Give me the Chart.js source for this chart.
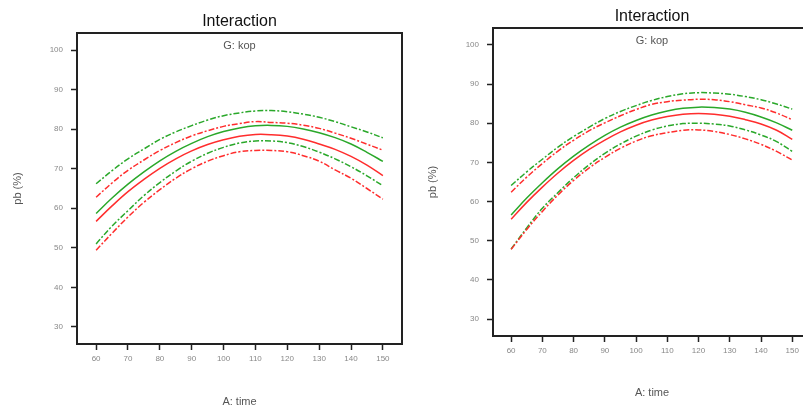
<!DOCTYPE html>
<html>
<head>
<meta charset="utf-8">
<script src="https://cdn.jsdelivr.net/npm/chart.js@4.4.1/dist/chart.umd.min.js"></script>
<style>
  html, body { margin: 0; padding: 0; background: #fff; overflow: hidden; width: 803px; height: 409px; }
  .box { position: absolute; top: 0; height: 409px; width: 410px; }
  #left { left: 0; }
  #right { left: 410px; }
</style>
</head>
<body>
<div class="box" id="left"><canvas id="ctxLeft"></canvas></div>
<div class="box" id="right"><canvas id="ctxRight"></canvas></div>
<script>
// A: time
const timeValues = [60, 65, 70, 75, 80, 85, 90, 95, 100, 105, 110, 115, 120, 125, 130, 135, 140, 145, 150];
const xTicks = [60, 70, 80, 90, 100, 110, 120, 130, 140, 150];
const yTicks = [30, 40, 50, 60, 70, 80, 90, 100];

// left plot: pb (%)
const leftGreenMid = [58.7, 62.6, 66.1, 69.2, 72.0, 74.4, 76.4, 78.1, 79.4, 80.3, 80.85, 80.95, 80.7, 80.05, 79.1, 77.85, 76.25, 74.15, 71.85];
const leftGreenHi = [66.2, 69.5, 72.5, 75.0, 77.4, 79.3, 80.9, 82.3, 83.4, 84.1, 84.6, 84.7, 84.4, 83.8, 83.0, 81.9, 80.6, 79.3, 77.8];
const leftGreenLo = [51.0, 55.5, 59.4, 63.2, 66.5, 69.4, 71.9, 73.9, 75.4, 76.5, 77.0, 77.0, 76.6, 75.6, 74.2, 72.5, 70.5, 68.2, 65.7];
const leftRedMid = [56.7, 60.6, 64.2, 67.3, 70.1, 72.5, 74.5, 76.1, 77.3, 78.2, 78.65, 78.6, 78.25, 77.45, 76.25, 74.9, 73.1, 70.9, 68.25];
const leftRedHi = [62.8, 66.4, 69.6, 72.2, 74.6, 76.6, 78.3, 79.6, 80.7, 81.4, 81.9, 81.7, 81.5, 81.0, 80.2, 79.0, 77.7, 76.2, 74.7];
const leftRedLo = [49.4, 53.7, 57.8, 61.5, 64.7, 67.6, 70.0, 71.9, 73.3, 74.3, 74.6, 74.6, 74.3, 73.3, 71.9, 69.7, 67.6, 65.0, 62.3];

// right plot: pb (%)
const rightGreenMid = [56.6, 60.9, 64.8, 68.4, 71.6, 74.4, 76.9, 79.0, 80.7, 82.1, 83.1, 83.8, 84.1, 84.0, 83.6, 82.8, 81.6, 80.1, 78.2];
const rightGreenHi = [64.1, 67.6, 70.8, 73.9, 76.6, 79.0, 81.2, 83.0, 84.5, 85.8, 86.8, 87.5, 87.8, 87.7, 87.4, 86.8, 86.0, 84.9, 83.6];
const rightGreenLo = [47.9, 53.3, 58.3, 62.3, 66.1, 69.4, 72.3, 74.7, 76.7, 78.25, 79.3, 79.9, 80.0, 79.8, 79.3, 78.3, 77.0, 75.3, 72.8];
const rightRedMid = [55.5, 59.8, 63.7, 67.3, 70.5, 73.3, 75.7, 77.8, 79.5, 80.8, 81.7, 82.3, 82.5, 82.3, 81.8, 80.9, 79.8, 78.2, 75.9];
const rightRedHi = [62.4, 66.25, 69.7, 72.9, 75.65, 78.1, 80.1, 81.9, 83.5, 84.8, 85.5, 85.9, 86.1, 86.0, 85.5, 84.7, 83.9, 82.6, 80.9];
const rightRedLo = [47.8, 52.9, 57.5, 61.7, 65.4, 68.6, 71.3, 73.6, 75.45, 76.8, 77.6, 78.2, 78.3, 77.9, 77.1, 76.0, 74.6, 72.8, 70.6];

const GREEN = '#2aa82a';
const RED = '#ff2d2d';
const FONT = '"Liberation Sans", Arial, sans-serif';
const DASH = [6, 2, 2, 2];

function toPoints(values) {
  return timeValues.map((x, i) => ({ x: x, y: values[i] }));
}

function line(values, color, dashed) {
  return {
    data: toPoints(values),
    borderColor: color,
    borderWidth: 1.5,
    borderDash: dashed ? DASH : [],
    pointRadius: 0,
    tension: 0.4,
    fill: false,
  };
}

// box around the plot area plus the factor label inside it
const framePlugin = {
  id: 'frame',
  afterDraw(chart, args, opts) {
    const { ctx, chartArea: a } = chart;
    ctx.save();
    ctx.strokeStyle = '#222';
    ctx.lineWidth = 2;
    ctx.strokeRect(a.left, a.top, a.right - a.left, a.bottom - a.top);
    ctx.fillStyle = '#555';
    ctx.font = '11px ' + FONT;
    ctx.textAlign = 'center';
    ctx.textBaseline = 'middle';
    ctx.fillText(opts.text, (a.left + a.right) / 2, a.top + 12.5);
    ctx.restore();
  }
};

function makeChart(id, series, g) {
  const ctx = document.getElementById(id);
  return new Chart(ctx, {
    type: 'line',
    data: {
      datasets: [
        line(series.redHi, RED, true),
        line(series.redLo, RED, true),
        line(series.greenHi, GREEN, true),
        line(series.greenLo, GREEN, true),
        line(series.redMid, RED, false),
        line(series.greenMid, GREEN, false),
      ],
    },
    options: {
      responsive: true,
      maintainAspectRatio: false,
      animation: false,
      layout: { padding: { left: 0, right: g.padRight, top: 0, bottom: 0 } },
      scales: {
        x: {
          type: 'linear',
          min: g.xMin,
          max: 156,
          afterBuildTicks: (scale) => { scale.ticks = xTicks.map(v => ({ value: v })); },
          afterFit: (scale) => { scale.height = g.xHeight; },
          ticks: { color: '#888', font: { size: 8, family: FONT }, padding: 4, maxRotation: 0 },
          grid: { display: true, drawOnChartArea: false, drawTicks: true, tickLength: 6, tickColor: '#222', tickWidth: 1.5 },
          border: { display: true, color: '#222', width: 2 },
          title: { display: true, text: 'A: time', color: '#555', font: { size: 11, family: FONT }, padding: { top: 0, bottom: g.xTitlePad } },
        },
        y: {
          min: 25.7,
          max: 104.3,
          afterBuildTicks: (scale) => { scale.ticks = yTicks.map(v => ({ value: v })); },
          afterFit: (scale) => { scale.width = g.yWidth; },
          ticks: { color: '#888', font: { size: 8, family: FONT }, padding: 8 },
          grid: { display: true, drawOnChartArea: false, drawTicks: true, tickLength: 6, tickColor: '#222', tickWidth: 1.5 },
          border: { display: true, color: '#222', width: 2 },
          title: { display: true, text: 'pb (%)', color: '#555', font: { size: 11, family: FONT }, padding: { top: g.yTitlePad, bottom: 0 } },
        },
      },
      plugins: {
        legend: { display: false },
        tooltip: { enabled: false },
        title: {
          display: true,
          text: 'Interaction',
          fullSize: false,
          color: '#111',
          font: { size: 16, weight: 'normal', family: FONT },
          padding: { top: g.titleTop, bottom: g.titleBottom },
        },
        frame: { text: 'G: kop' },
      },
    },
    plugins: [framePlugin],
  });
}

makeChart('ctxLeft', {
  greenMid: leftGreenMid, greenHi: leftGreenHi, greenLo: leftGreenLo,
  redMid: leftRedMid, redHi: leftRedHi, redLo: leftRedLo,
}, { xMin: 54, padRight: 8, yWidth: 77, xHeight: 65, xTitlePad: 0, yTitlePad: 11.4, titleTop: 12.4, titleBottom: 1.4 });

makeChart('ctxRight', {
  greenMid: rightGreenMid, greenHi: rightGreenHi, greenLo: rightGreenLo,
  redMid: rightRedMid, redHi: rightRedHi, redLo: rightRedLo,
}, { xMin: 54.2, padRight: 9, yWidth: 83, xHeight: 73, xTitlePad: 9.4, yTitlePad: 16.4, titleTop: 7.4, titleBottom: 1.4 });
</script>
</body>
</html>
